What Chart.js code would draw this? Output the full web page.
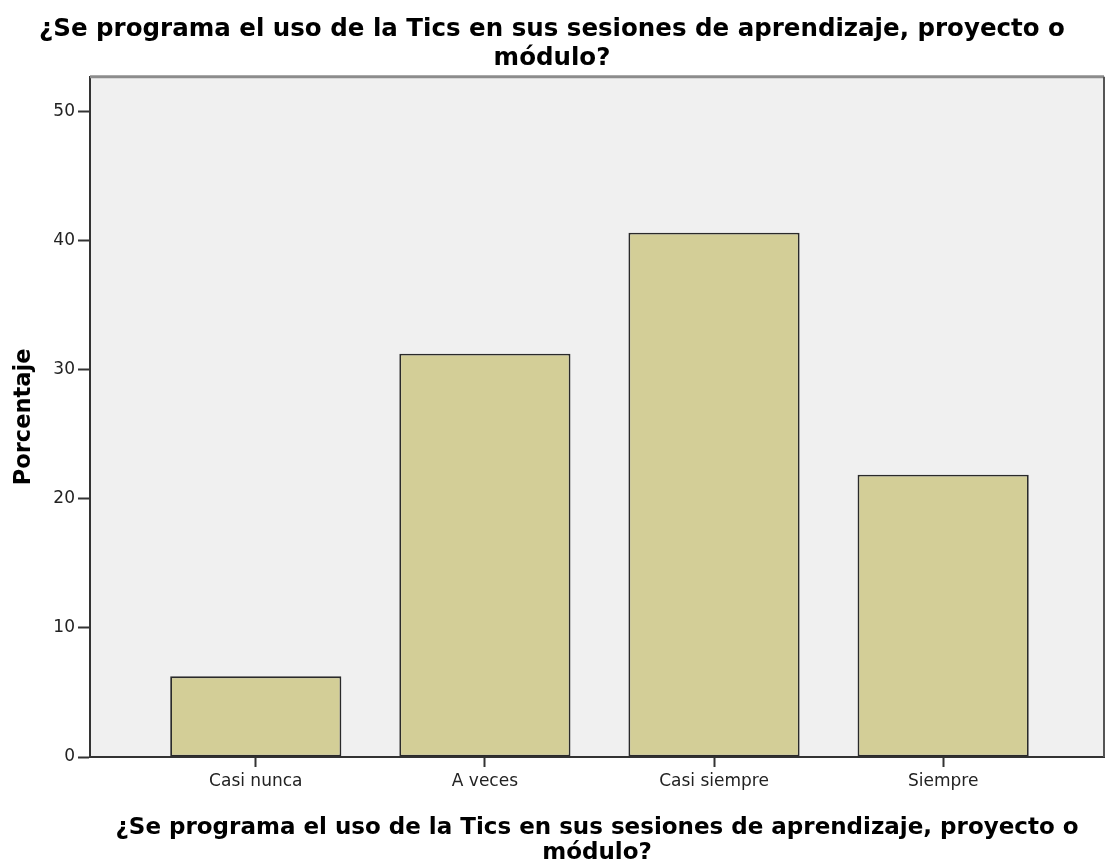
<!DOCTYPE html>
<html>
<head>
<meta charset="utf-8">
<script src="https://cdn.jsdelivr.net/npm/chart.js@4"></script>
<style>
html,body{margin:0;padding:0;background:#fff;}
#wrap{width:1108px;height:863px;}
</style>
</head>
<body>
<div id="wrap"><canvas id="c" width="1108" height="863"></canvas></div>
<script>
const titleLines = ["¿Se programa el uso de la Tics en sus sesiones de aprendizaje, proyecto o", "módulo?"];
const categories = ["Casi nunca", "A veces", "Casi siempre", "Siempre"];
const percentages = [6.25, 31.25, 40.625, 21.875];
const yTicks = [0, 10, 20, 30, 40, 50];
const yAxisLabel = "Porcentaje";

const plotFrame = {
  id: 'plotFrame',
  beforeDraw(chart) {
    const {ctx, chartArea: a} = chart;
    ctx.save();
    ctx.fillStyle = '#f0f0f0';
    ctx.fillRect(a.left, a.top, a.right - a.left, a.bottom - a.top);
    ctx.restore();
  },
  afterDraw(chart) {
    const {ctx, chartArea: a} = chart;
    ctx.save();
    ctx.strokeStyle = '#8c8c8c';
    ctx.lineWidth = 3;
    ctx.beginPath();
    ctx.moveTo(a.left, a.top);
    ctx.lineTo(a.right, a.top);
    ctx.stroke();
    ctx.strokeStyle = '#555';
    ctx.lineWidth = 2;
    ctx.beginPath();
    ctx.moveTo(a.right, a.top);
    ctx.lineTo(a.right, a.bottom);
    ctx.stroke();
    ctx.restore();
  }
};

new Chart(document.getElementById('c'), {
  type: 'bar',
  data: {
    datasets: [{
      data: percentages.map((v, i) => ({x: i, y: v})),
      backgroundColor: '#d3ce97',
      borderColor: '#2a2a2a',
      borderWidth: 1.8,
      borderSkipped: false,
      categoryPercentage: 1,
      barPercentage: 0.747
    }]
  },
  options: {
    responsive: false,
    animation: false,
    layout: {padding: {left: 0, right: 4, top: 0, bottom: 0}},
    plugins: {
      legend: {display: false},
      tooltip: {enabled: false},
      title: {
        display: true,
        text: titleLines,
        color: '#000',
        font: {family: 'DejaVu Sans', size: 24.5, weight: 'bold', lineHeight: 1.2},
        padding: {top: 15, bottom: 3}
      }
    },
    scales: {
      x: {
        type: 'linear',
        offset: false,
        min: -0.7235,
        max: 3.702,
        afterBuildTicks: s => { s.ticks = categories.map((c, i) => ({value: i})); },
        afterFit: s => { s.height = 106; },
        ticks: {
          callback: v => categories[v],
          color: '#222',
          font: {family: 'DejaVu Sans', size: 17},
          padding: 4,
          autoSkip: false,
          maxRotation: 0
        },
        grid: {display: true, offset: false, drawOnChartArea: false, drawTicks: true, tickLength: 10, tickColor: '#333', tickWidth: 2},
        border: {display: true, color: '#333', width: 2},
        title: {
          display: true,
          text: titleLines,
          color: '#000',
          font: {family: 'DejaVu Sans', size: 23, weight: 'bold', lineHeight: 1.1},
          padding: {top: 4, bottom: -3}
        }
      },
      y: {
        min: 0,
        max: 52.7,
        afterBuildTicks: s => { s.ticks = yTicks.map(v => ({value: v})); },
        afterFit: s => { s.width = 90; },
        ticks: {
          color: '#222',
          font: {family: 'DejaVu Sans', size: 17},
          padding: 3
        },
        grid: {display: true, drawOnChartArea: false, drawTicks: true, tickLength: 12, tickColor: '#333', tickWidth: 2},
        border: {display: true, color: '#333', width: 2},
        title: {
          display: true,
          text: yAxisLabel,
          color: '#000',
          font: {family: 'DejaVu Sans', size: 22.5, weight: 'bold', lineHeight: 1.2},
          padding: {top: 11, bottom: 0}
        }
      }
    }
  },
  plugins: [plotFrame]
});
</script>
</body>
</html>
